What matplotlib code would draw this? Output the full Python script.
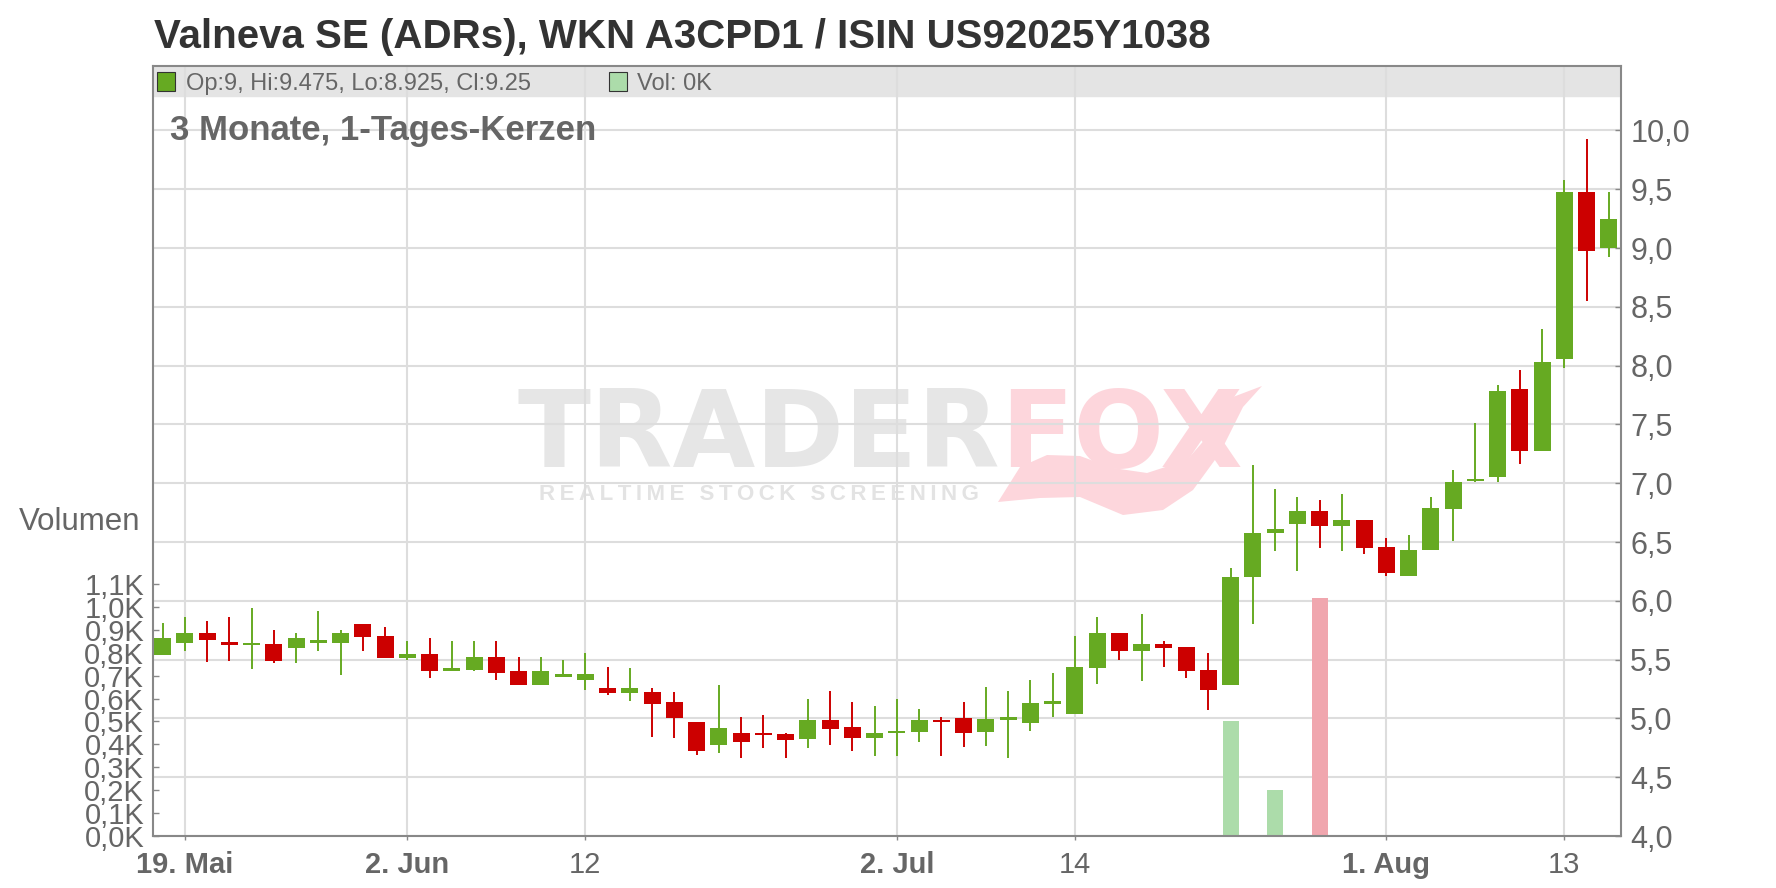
import pandas as pd
import matplotlib
matplotlib.use("Agg")
import matplotlib.pyplot as plt
from matplotlib.patches import Rectangle, PathPatch
from matplotlib.path import Path
from matplotlib.lines import Line2D
from matplotlib.ticker import FuncFormatter
from matplotlib.transforms import blended_transform_factory

plt.rcParams['font.family'] = ['Liberation Sans', 'DejaVu Sans']

# Tageskerzen 16.05. - 15.08.2025
dates = pd.bdate_range('2025-05-16', '2025-08-15')

opens = [5.54, 5.645, 5.73, 5.65, 5.62, 5.63, 5.595, 5.645, 5.645, 5.805,
         5.705, 5.51, 5.55, 5.40, 5.415, 5.525, 5.40, 5.28, 5.35, 5.325,
         5.26, 5.22, 5.225, 5.14, 4.97, 4.775, 4.88, 4.875, 4.865, 4.825,
         4.985, 4.925, 4.835, 4.875, 4.885, 4.985, 5.0, 4.885, 4.99, 4.96,
         5.125, 5.04, 5.43, 5.73, 5.575, 5.63, 5.605, 5.41, 5.285, 6.20,
         6.575, 6.65, 6.765, 6.635, 6.69, 6.46, 6.21, 6.43, 6.785, 7.02,
         7.055, 7.805, 7.275, 8.055, 9.475, 9.0]
highs = [5.81, 5.86, 5.83, 5.86, 5.935, 5.755, 5.73, 5.91, 5.755, 5.805,
         5.78, 5.655, 5.68, 5.655, 5.655, 5.655, 5.525, 5.525, 5.50, 5.555,
         5.435, 5.425, 5.26, 5.225, 4.97, 5.285, 5.01, 5.03, 4.875, 5.165,
         5.235, 5.14, 5.105, 5.165, 5.08, 5.01, 5.14, 5.27, 5.23, 5.325,
         5.385, 5.705, 5.86, 5.73, 5.885, 5.655, 5.605, 5.555, 6.28, 7.155,
         6.955, 6.88, 6.86, 6.91, 6.69, 6.535, 6.56, 6.885, 7.11, 7.51,
         7.835, 7.96, 8.31, 9.58, 9.925, 9.475]
lows = [5.54, 5.57, 5.48, 5.49, 5.42, 5.475, 5.475, 5.57, 5.37, 5.57,
        5.515, 5.50, 5.34, 5.40, 5.405, 5.33, 5.28, 5.28, 5.35, 5.24,
        5.195, 5.145, 4.84, 4.835, 4.69, 4.705, 4.66, 4.745, 4.66, 4.745,
        4.775, 4.72, 4.68, 4.68, 4.80, 4.68, 4.755, 4.765, 4.66, 4.89,
        5.015, 5.04, 5.295, 5.50, 5.32, 5.44, 5.345, 5.075, 5.285, 5.80,
        6.425, 6.255, 6.45, 6.425, 6.40, 6.21, 6.21, 6.43, 6.505, 7.01,
        7.01, 7.16, 7.275, 7.98, 8.55, 8.925]
closes = [5.68, 5.73, 5.67, 5.62, 5.63, 5.485, 5.68, 5.655, 5.73, 5.695,
          5.515, 5.55, 5.40, 5.425, 5.525, 5.39, 5.28, 5.405, 5.375, 5.375,
          5.22, 5.26, 5.125, 5.0, 4.72, 4.915, 4.80, 4.86, 4.815, 4.985,
          4.91, 4.835, 4.88, 4.89, 4.985, 4.97, 4.875, 4.995, 5.0, 5.13,
          5.145, 5.435, 5.73, 5.575, 5.63, 5.60, 5.405, 5.245, 6.205, 6.58,
          6.61, 6.76, 6.635, 6.69, 6.45, 6.235, 6.435, 6.79, 7.01, 7.03,
          7.78, 7.275, 8.035, 9.475, 8.975, 9.25]
volumes = [0, 0, 0, 0, 0, 0, 0, 0, 0, 0,
           0, 0, 0, 0, 0, 0, 0, 0, 0, 0,
           0, 0, 0, 0, 0, 0, 0, 0, 0, 0,
           0, 0, 0, 0, 0, 0, 0, 0, 0, 0,
           0, 0, 0, 0, 0, 0, 0, 0, 500, 0,
           200, 0, 1040, 0, 0, 0, 0, 0, 0, 0,
           0, 0, 0, 0, 0, 0]

tick_dates = ['2025-05-19', '2025-06-02', '2025-06-12', '2025-07-02',
              '2025-07-14', '2025-08-01', '2025-08-13']
tick_labels = ['19. Mai', '2. Jun', '12', '2. Jul', '14', '1. Aug', '13']

GREEN = '#66aa22'
RED = '#cc0000'
VOL_GREEN = '#acdcaa'
VOL_RED = '#f0a6ae'
GRID = '#dddddd'
TXT = '#666666'

W, H = 1776, 888
fig = plt.figure(figsize=(W / 100, H / 100), dpi=100)
ax = fig.add_axes([152.5 / W, 1 - 836 / H, 1468 / W, 770 / H])
ax2 = ax.twinx()


def fx(px):
    return px / W


def fy(py):
    return 1 - py / H


x = list(range(len(dates)))
up = [c >= o for o, c in zip(opens, closes)]

# Volumen (linke Achse)
ax.bar(x, volumes, width=0.72, color=[VOL_GREEN if u else VOL_RED for u in up],
       zorder=2)
ax.set_ylim(0, 3362)
ax.set_yticks(range(0, 1101, 100))
ax.yaxis.set_major_formatter(FuncFormatter(
    lambda v, p: f"{v / 1000:.1f}K".replace('.', ',')))
ax.set_xlim(-0.455, 65.52)

# Kerzen (rechte Achse)
for i in x:
    col = GREEN if up[i] else RED
    ax2.vlines(i, lows[i], highs[i], color=col, lw=1.4, zorder=3)
    body = max(abs(closes[i] - opens[i]), 0.02)
    ax2.bar(i, body, bottom=min(opens[i], closes[i]), width=0.76, color=col,
            zorder=4)
ax2.set_ylim(4.0, 10.548)
ax2.set_yticks([4 + 0.5 * k for k in range(13)])
ax2.yaxis.set_major_formatter(FuncFormatter(
    lambda v, p: f"{v:.1f}".replace('.', ',')))

# Gitter
ax.set_axisbelow(True)
tick_pos = dates.get_indexer(pd.to_datetime(tick_dates))
ax.set_xticks(tick_pos)
ax.set_xticklabels(tick_labels)
for lbl, t in zip(ax.get_xticklabels(), tick_labels):
    lbl.set_fontweight('bold' if '.' in t else 'normal')
ax.grid(axis='x', color=GRID, lw=1.5, zorder=0.5)
tr = blended_transform_factory(ax.transAxes, ax2.transData)
for yv in ax2.get_yticks():
    ax.add_line(Line2D([0, 1], [yv, yv], transform=tr, color=GRID, lw=1.5,
                       zorder=0.5))

# Legendenband oben
band_bottom = (836 - 96) / 770
ax.add_patch(Rectangle((0, band_bottom), 1, 1 - band_bottom,
                       transform=ax.transAxes, color='#e4e4e4', zorder=0.2))

for s in ax.spines.values():
    s.set_color('#888888')
    s.set_linewidth(1.5)
for s in ax2.spines.values():
    s.set_visible(False)

ax.tick_params(axis='y', direction='in', length=4, width=1, color='#888888',
               labelcolor=TXT, labelsize=21, pad=6)
ax.tick_params(axis='x', direction='out', length=3, width=1, color='#888888',
               labelcolor=TXT, labelsize=21, pad=8)
ax2.tick_params(axis='y', direction='in', length=4, width=1, color='#888888',
                labelcolor=TXT, labelsize=22, pad=7)

# Wasserzeichen
ax.text(fx(1000), fy(467), 'TRADER', transform=fig.transFigure, ha='right',
        va='baseline', fontsize=77, fontweight='bold', family='DejaVu Sans',
        color='#e6e6e6', zorder=0.1)
ax.text(fx(1000), fy(467), 'FOX', transform=fig.transFigure, ha='left',
        va='baseline', fontsize=77, fontweight='bold', family='DejaVu Sans',
        color='#fdd6dc', zorder=0.1)
ax.text(fx(759), fy(494), '\u2009'.join('REALTIME STOCK SCREENING'),
        transform=fig.transFigure, ha='center', va='center', fontsize=16,
        fontweight='bold', color='#e3e3e3', zorder=0.1)
tail = [(998, 502), (1040, 498), (1080, 497), (1123, 515), (1163, 510),
        (1193, 490), (1220, 453), (1243, 407), (1262, 386), (1233, 397),
        (1220, 413), (1207, 437), (1187, 460), (1147, 473), (1113, 468),
        (1080, 456), (1047, 455), (1020, 467), (998, 502)]
ax.add_patch(PathPatch(Path([(fx(a), fy(b)) for a, b in tail], closed=True),
                       transform=fig.transFigure, facecolor='#fdd6dc',
                       edgecolor='none', zorder=0.1))

# Titel und Beschriftungen
fig.text(fx(154), fy(48), 'Valneva SE (ADRs), WKN A3CPD1 / ISIN US92025Y1038',
         ha='left', va='baseline', fontsize=29, fontweight='bold', color='#333333')
fig.text(fx(170), fy(140), '3 Monate, 1-Tages-Kerzen', ha='left',
         va='baseline', fontsize=25, fontweight='bold', color=TXT)
fig.text(fx(140), fy(522), 'Volumen', ha='right', va='center',
         fontsize=22.5, color=TXT)

fig.add_artist(Rectangle((fx(157), fy(91)), 18 / W, 19 / H,
                         transform=fig.transFigure, facecolor=GREEN,
                         edgecolor='#333333', lw=0.8))
fig.text(fx(186), fy(90),
         f"Op:{opens[-1]:g}, Hi:{highs[-1]:g}, Lo:{lows[-1]:g}, Cl:{closes[-1]:g}",
         ha='left', va='baseline', fontsize=17, color=TXT)
fig.add_artist(Rectangle((fx(609), fy(91)), 18 / W, 19 / H,
                         transform=fig.transFigure, facecolor=VOL_GREEN,
                         edgecolor='#333333', lw=0.8))
fig.text(fx(637), fy(90), f"Vol: {volumes[-1] / 1000:.0f}K", ha='left',
         va='baseline', fontsize=17, color=TXT)

fig.savefig('out.png', dpi=100, facecolor='white')
